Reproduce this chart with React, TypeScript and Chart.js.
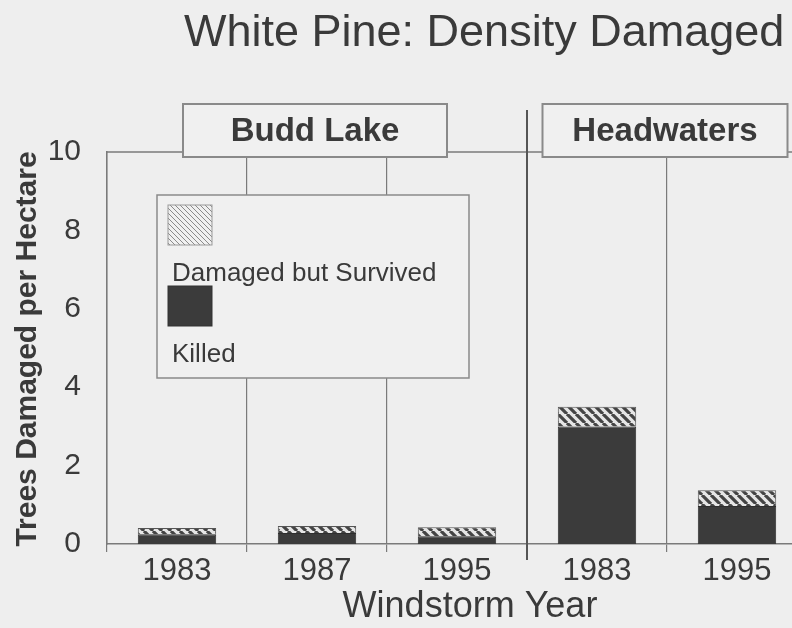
import { useEffect, useRef } from 'react';
import { Chart, registerables } from 'chart.js';

Chart.register(...registerables);

// ---- data ----
const TITLE = 'White Pine: Density Damaged';
const Y_TITLE = 'Trees Damaged per Hectare';
const X_TITLE = 'Windstorm Year';
const YEARS = ['1983', '1987', '1995', '1983', '1995'];
const SITES = ['Budd Lake', 'Budd Lake', 'Budd Lake', 'Headwaters', 'Headwaters'];
const KILLED = [0.25, 0.28, 0.2, 3.0, 0.97];
const DAMAGED_SURVIVED = [0.16, 0.18, 0.23, 0.5, 0.4];
const Y_TICKS = [0, 2, 4, 6, 8, 10];
const SERIES_LABELS = ['Damaged but Survived', 'Killed'];

// ---- style ----
const FONT = '"Liberation Sans", Arial, Helvetica, sans-serif';
const BG = '#eeeeee';
const INK = '#3a3a3a';
const LINE = '#7a7a7a';
const DARK = '#3b3b3b';
const BOX_WIDTH: Record<string, number> = { 'Budd Lake': 264, 'Headwaters': 245 };

function makeHatch(ctx: CanvasRenderingContext2D, period: number, lw: number, fg: string, bg: string) {
  const c = document.createElement('canvas');
  c.width = period;
  c.height = period;
  const g = c.getContext('2d')!;
  g.fillStyle = bg;
  g.fillRect(0, 0, period, period);
  g.strokeStyle = fg;
  g.lineWidth = lw;
  g.beginPath();
  for (const k of [-period, 0, period]) {
    g.moveTo(k, 0);
    g.lineTo(k + period, period);
  }
  g.stroke();
  return ctx.createPattern(c, 'repeat')!;
}

export default function App() {
  const ref = useRef<HTMLCanvasElement>(null);

  useEffect(() => {
    const canvas = ref.current!;
    const ctx = canvas.getContext('2d')!;
    const barHatch = makeHatch(ctx, 9, 3.2, '#444444', '#e6e6e6');
    const legendHatch = makeHatch(ctx, 5, 1, '#8a8a8a', '#f0f0f0');

    const decor = {
      id: 'decor',
      beforeDraw(chart: any) {
        const c = chart.ctx;
        c.save();
        c.fillStyle = BG;
        c.fillRect(0, 0, chart.width, chart.height);
        c.restore();
      },
      afterDraw(chart: any) {
        const c: CanvasRenderingContext2D = chart.ctx;
        const ca = chart.chartArea;
        const xs = chart.scales.x;
        const half = (xs.getPixelForValue(1) - xs.getPixelForValue(0)) / 2;
        c.save();

        // top border
        c.strokeStyle = LINE;
        c.lineWidth = 1.5;
        c.beginPath();
        c.moveTo(ca.left, ca.top);
        c.lineTo(ca.right, ca.top);
        c.stroke();

        // group separators
        c.strokeStyle = '#555';
        c.lineWidth = 2;
        for (let i = 1; i < SITES.length; i++) {
          if (SITES[i] !== SITES[i - 1]) {
            const xb = xs.getPixelForValue(i) - half;
            c.beginPath();
            c.moveTo(xb, ca.top - 42);
            c.lineTo(xb, ca.bottom + 16);
            c.stroke();
          }
        }

        // group header boxes
        const groups: { name: string; first: number; last: number }[] = [];
        SITES.forEach((s, i) => {
          const g = groups[groups.length - 1];
          if (g && g.name === s) g.last = i;
          else groups.push({ name: s, first: i, last: i });
        });
        groups.forEach((g) => {
          const l = xs.getPixelForValue(g.first) - half;
          const r = xs.getPixelForValue(g.last) + half;
          const cx = (l + r) / 2 - 2;
          const w = BOX_WIDTH[g.name] || 240;
          const top = ca.top - 48;
          const h = 53;
          c.fillStyle = '#f0f0f0';
          c.fillRect(cx - w / 2, top, w, h);
          c.strokeStyle = '#8a8a8a';
          c.lineWidth = 2;
          c.strokeRect(cx - w / 2, top, w, h);
          c.fillStyle = INK;
          c.font = `bold 33px ${FONT}`;
          c.textAlign = 'center';
          c.textBaseline = 'alphabetic';
          c.fillText(g.name, cx, top + 37);
        });

        // legend
        const lx = ca.left + 50;
        const ly = ca.top + 43;
        c.fillStyle = '#f0f0f0';
        c.fillRect(lx, ly, 312, 183);
        c.strokeStyle = '#8a8a8a';
        c.lineWidth = 1.5;
        c.strokeRect(lx, ly, 312, 183);
        const swatches = [legendHatch, DARK];
        SERIES_LABELS.forEach((lab, i) => {
          const sy = ly + 10 + i * 81;
          c.fillStyle = swatches[i] as any;
          c.fillRect(lx + 11, sy, 44, 40);
          c.strokeStyle = i === 0 ? '#999' : '#333';
          c.lineWidth = 1;
          c.strokeRect(lx + 11, sy, 44, 40);
          c.fillStyle = INK;
          c.font = `26px ${FONT}`;
          c.textAlign = 'left';
          c.textBaseline = 'alphabetic';
          c.fillText(lab, lx + 15, sy + 76);
        });

        // title
        c.fillStyle = INK;
        c.font = `45px ${FONT}`;
        c.textAlign = 'left';
        c.textBaseline = 'alphabetic';
        c.fillText(TITLE, 184, 46);

        // x title
        c.font = `36px ${FONT}`;
        c.textAlign = 'center';
        c.fillText(X_TITLE, (ca.left + ca.right) / 2 + 13, 617);

        // y title
        c.translate(28, (ca.top + ca.bottom) / 2 + 1);
        c.rotate(-Math.PI / 2);
        c.font = `bold 30px ${FONT}`;
        c.textAlign = 'center';
        c.textBaseline = 'middle';
        c.fillText(Y_TITLE, 0, 0);

        c.restore();
      },
    };

    const chart = new Chart(canvas, {
      type: 'bar',
      data: {
        labels: YEARS,
        datasets: [
          {
            label: SERIES_LABELS[1],
            data: KILLED,
            backgroundColor: DARK,
            borderColor: '#2e2e2e',
            borderWidth: 1,
            barPercentage: 0.56,
            categoryPercentage: 1,
          },
          {
            label: SERIES_LABELS[0],
            data: DAMAGED_SURVIVED,
            backgroundColor: barHatch as any,
            borderColor: '#555',
            borderWidth: 1,
            barPercentage: 0.56,
            categoryPercentage: 1,
          },
        ],
      },
      options: {
        responsive: false,
        animation: false,
        layout: { padding: { top: 152, right: 23, left: 0, bottom: 0 } },
        plugins: {
          legend: { display: false },
          tooltip: { enabled: false },
          title: { display: false },
        },
        scales: {
          x: {
            stacked: true,
            offset: true,
            grid: { color: LINE, lineWidth: 1.2, tickLength: 8, offset: true, drawTicks: true },
            border: { color: LINE, width: 1.5 },
            ticks: {
              color: INK,
              font: { family: FONT, size: 31 },
              padding: 1,
              maxRotation: 0,
              autoSkip: false,
            },
            afterFit: (s: any) => {
              s.height = 84;
            },
          },
          y: {
            stacked: true,
            min: 0,
            max: 10,
            grid: { display: false },
            border: { display: true, color: LINE, width: 1.5 },
            ticks: {
              color: INK,
              font: { family: FONT, size: 30 },
              padding: 18,
            },
            afterBuildTicks: (s: any) => {
              s.ticks = Y_TICKS.map((v) => ({ value: v }));
            },
            afterFit: (s: any) => {
              s.width = 107;
            },
          },
        },
      },
      plugins: [decor],
    });

    return () => chart.destroy();
  }, []);

  return (
    <div
      style={{
        position: 'fixed',
        left: 0,
        top: 0,
        width: 792,
        height: 628,
        overflow: 'hidden',
        background: BG,
      }}
    >
      <canvas ref={ref} width={830} height={628} style={{ display: 'block' }} />
    </div>
  );
}
